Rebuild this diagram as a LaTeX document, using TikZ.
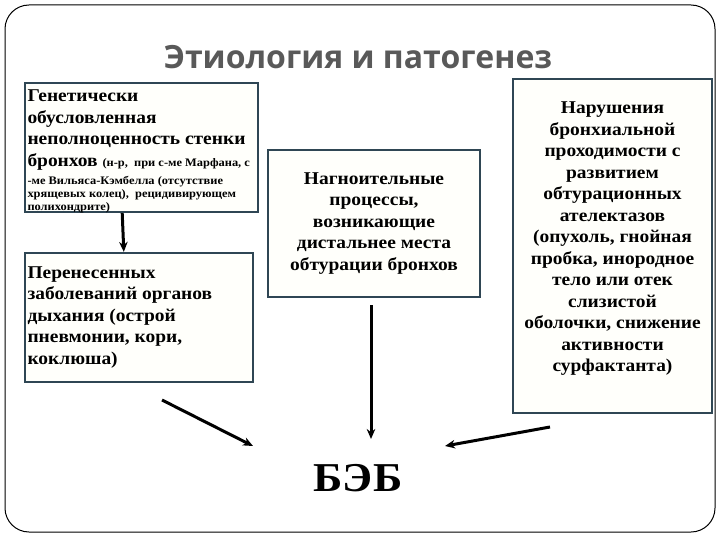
\documentclass[tikz,border=0pt]{standalone}
\usepackage{fontspec}
\setmainfont{Liberation Serif}[FakeStretch=1.08]
\newfontfamily\titlefont{Open Sans}
\usetikzlibrary{arrows.meta,calc}
\definecolor{boxline}{RGB}{47,70,84}
\definecolor{boxfill}{RGB}{255,255,251}
\definecolor{titlegray}{RGB}{89,89,89}
\tikzset{
  box/.style={draw=boxline, line width=2.2pt, fill=boxfill, inner sep=2pt, font=\bfseries\fontsize{18}{21.5}\selectfont},
  boxtext/.style={inner sep=2pt, font=\bfseries\fontsize{18}{21.5}\selectfont},
  arr/.style={line width=3pt, -{Stealth[length=10pt,width=8.5pt]}}
}
\begin{document}
\begin{tikzpicture}[x=1pt,y=-1pt]
\useasboundingbox (0,0) rectangle (720,540);
\draw[line width=1pt, rounded corners=24pt] (5,5) rectangle (715,532);
\node[font=\titlefont\bfseries\fontsize{32}{36}\selectfont, text=titlegray] (title) at (358,57) {Этиология и патогенез};
\node[box, minimum width=233pt, minimum height=129pt] (b1) at (141.5,147.5) {};
\node[boxtext, text width=228pt, align=flush left] (b1t) at ($(b1.center)+(0,4)$)
 {Генетически\\ обусловленная\\ неполноценность стенки\\ бронхов {\fontsize{11.5}{13}\selectfont (н-р,\ \ при с-ме Марфана, с}\par
  \vspace{5pt}{\fontsize{11.5}{13}\selectfont -ме Вильяса-Кэмбелла (отсутствие\\ хрящевых колец),\ \ рецидивирующем\\ полихондрите)\par}};
\node[box, minimum width=228pt, minimum height=129pt, text width=223pt, align=flush left] (b2) at (139,317.5)
 {Перенесенных\\ заболеваний органов\\ дыхания (острой\\ пневмонии, кори,\\ коклюша)};
\node[box, minimum width=212pt, minimum height=147pt, text width=205pt, align=flush center] (b3) at (374,223.5)
 {Нагноительные\\ процессы,\\ возникающие\\ дистальнее места\\ обтурации бронхов};
\node[box, minimum width=199pt, minimum height=334pt] (b4) at (612.5,246) {};
\node[boxtext, text width=194pt, align=flush center] (b4t) at ($(b4.center)+(0,-7)$)
 {Нарушения\\ бронхиальной\\ проходимости с\\ развитием\\ обтурационных\\ ателектазов\\ (опухоль, гнойная\\ пробка, инородное\\ тело или отек\\ слизистой\\ оболочки, снижение\\ активности\\ сурфактанта)};
\node[font=\bfseries\fontsize{41}{46}\selectfont] (beb) at (358,478) {БЭБ};
\coordinate (lStart) at (162,400);
\coordinate (lEnd) at (253,446);
\coordinate (rStart) at (550,427);
\coordinate (rEnd) at (445,446);
\coordinate (mEnd) at (371,439);
\draw[arr] ($(b1.south west)!0.418!(b1.south east)$) -- ($(b2.north west)!0.434!(b2.north east)$);
\draw[arr] ($(b3.south)+(-3,7)$) -- (mEnd);
\draw[arr] (lStart) -- (lEnd);
\draw[arr] (rStart) -- (rEnd);
\end{tikzpicture}
\end{document}
